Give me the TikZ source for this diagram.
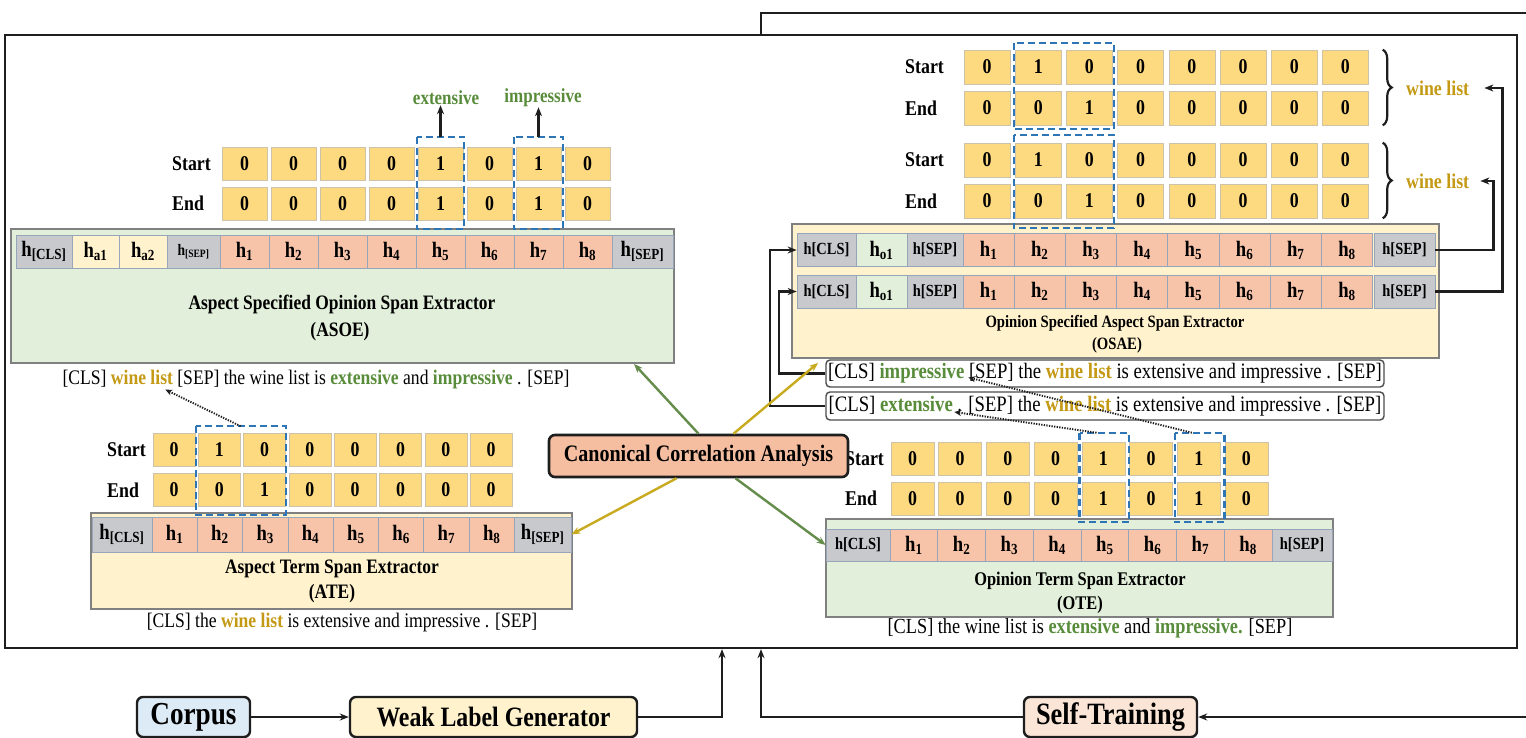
\documentclass[tikz,border=0pt]{standalone}
\usepackage{fontspec}
\setmainfont{Liberation Serif}[FakeStretch=0.85]
\usetikzlibrary{arrows.meta,calc,decorations.pathreplacing}

\definecolor{cellfill}{RGB}{253,217,128}
\definecolor{cellline}{RGB}{205,195,170}
\definecolor{tokfill}{RGB}{247,196,170}
\definecolor{tokgray}{RGB}{200,201,204}
\definecolor{tokline}{RGB}{150,165,185}
\definecolor{boxgreen}{RGB}{226,239,218}
\definecolor{boxyellow}{RGB}{255,242,204}
\definecolor{boxline}{RGB}{128,128,128}
\definecolor{ccafill}{RGB}{245,190,160}
\definecolor{corpusfill}{RGB}{221,235,247}
\definecolor{stfill}{RGB}{251,229,214}
\definecolor{wgreen}{RGB}{88,140,58}
\definecolor{wgold}{RGB}{196,153,20}
\definecolor{lgreen}{RGB}{100,140,75}
\definecolor{lgold}{RGB}{200,170,30}
\definecolor{dashcol}{RGB}{46,117,182}
\definecolor{ink}{RGB}{30,30,30}

\newcommand{\fsz}[1]{\fontsize{#1}{#1}\selectfont}
\newcommand{\gwd}[1]{\textcolor{wgreen}{\bfseries #1}}
\newcommand{\ywd}[1]{\textcolor{wgold}{\bfseries #1}}

\begin{document}
\begin{tikzpicture}[x=1pt,y=-1pt,
  every node/.style={inner sep=0pt},
  cellbox/.style={draw=cellline, line width=0.6pt, fill=cellfill, font=\fsz{21}\bfseries},
  tokbox/.style={draw=tokline, line width=0.7pt, fill=tokfill, font=\fsz{22}\bfseries},
  graytok/.style={tokbox, fill=tokgray},
  modbox/.style={draw=boxline, line width=1.8pt},
  rowlbl/.style={anchor=west, font=\fsz{21}\bfseries},
  titletxt/.style={font=\fsz{20.5}\bfseries},
  senttxt/.style={font=\fsz{20.7}},
  sentbox/.style={draw=black!70, line width=1.4pt, rounded corners=4pt, fill=white, font=\fsz{22}},
  dashblue/.style={draw=dashcol, line width=2.1pt, dash pattern=on 7pt off 4pt},
  arr/.style={draw=ink, line width=2.3pt, -{Stealth[length=9pt,width=7pt]}},
  dotarr/.style={draw=ink, line width=1.9pt, dash pattern=on 1.3pt off 1.3pt, -{Stealth[length=7pt,width=6pt]}},
  greenline/.style={draw=lgreen, line width=2.4pt, -{Stealth[length=9pt,width=7pt]}},
  goldline/.style={draw=lgold, line width=2.4pt, -{Stealth[length=9pt,width=7pt]}},
  ccabox/.style={draw=ink, line width=2.6pt, rounded corners=6pt, fill=ccafill, font=\fsz{23.6}\bfseries},
  botbox/.style={draw=ink, line width=2.4pt, rounded corners=6pt, minimum height=40pt},
  bracestyle/.style={draw=ink, line width=2.2pt, decorate, decoration={brace, amplitude=9pt}}
]
\useasboundingbox (0,0) rectangle (1526,738);
\clip (0,0) rectangle (1526,738);

% outer frame of the joint model
\node[draw=ink, line width=2.3pt, minimum width=1512pt, minimum height=613pt] (main) at (761,341.5) {};

% ---------------- ASOE ----------------
\node[modbox, fill=boxgreen, minimum width=663pt, minimum height=134pt] (asoe) at (342.5,296) {};
\node[graytok, minimum width=56pt, minimum height=33pt] (aCLS) at (44,251.5) {h\textsubscript{[CLS]}};
\node[tokbox, fill=boxyellow, minimum width=47pt, minimum height=33pt] (aA1) at (95.5,251.5) {h\textsubscript{a1}};
\node[tokbox, fill=boxyellow, minimum width=48pt, minimum height=33pt] (aA2) at (143,251.5) {h\textsubscript{a2}};
\node[graytok, minimum width=53pt, minimum height=33pt, font=\fsz{16}\bfseries] (aSEPa) at (193.5,251.5) {h\textsubscript{[SEP]}};
\foreach \col in {1,...,8}
  \node[tokbox, minimum width=49pt, minimum height=33pt] (aT\col) at ({244.5+49*(\col-1)},251.5) {h\textsubscript{\col}};
\node[graytok, minimum width=61pt, minimum height=33pt] (aSEP) at (642.5,251.5) {h\textsubscript{[SEP]}};
\foreach \sv/\ev [count=\col] in {0/0,0/0,0/0,0/0,1/1,0/0,1/1,0/0} {
  \node[cellbox, minimum width=45pt, minimum height=33pt] (aS\col) at ({244.5+49*(\col-1)},163.5) {\sv};
  \node[cellbox, minimum width=45pt, minimum height=33pt] (aE\col) at ({244.5+49*(\col-1)},203.5) {\ev};
}
\node[rowlbl] (aStart) at (172,163.5) {Start};
\node[rowlbl] (aEnd) at (172,203.5) {End};
\draw[dashblue] ($(aS5.north west)+(-1,-10)$) rectangle ($(aE5.south east)+(1,9)$);
\draw[dashblue] ($(aS7.north west)+(-2,-10)$) rectangle ($(aE7.south east)+(2,9)$);
\node[font=\fsz{20}\bfseries, text=wgreen] (lblExt) at (446,98) {extensive};
\node[font=\fsz{20}\bfseries, text=wgreen] (lblImp) at (543,98) {impressive};
\draw[arr] ($(aS5.north)+(0,-10)$) -- (aS5.north |- lblExt.south);
\draw[arr] ($(aS7.north)+(0,-10)$) -- (aS7.north |- lblImp.south);
\node[titletxt] (asoeName) at (342,304) {Aspect Specified Opinion Span Extractor};
\node[titletxt] (asoeAbbr) at (340,332) {(ASOE)};
\node[senttxt] (asoeSent) at (316,380) {[CLS] \ywd{wine list} [SEP] the wine list is \gwd{extensive} and \gwd{impressive} . [SEP]};

% ---------------- ATE ----------------
\node[modbox, fill=boxyellow, minimum width=481pt, minimum height=96pt] (ate) at (331.5,561) {};
\node[graytok, minimum width=60pt, minimum height=35pt] (tCLS) at (122,534.5) {h\textsubscript{[CLS]}};
\foreach \col in {1,...,8}
  \node[tokbox, minimum width=45.3pt, minimum height=35pt] (tT\col) at ({174.65+45.3*(\col-1)},534.5) {h\textsubscript{\col}};
\node[graytok, minimum width=56.6pt, minimum height=35pt] (tSEP) at (542.7,534.5) {h\textsubscript{[SEP]}};
\foreach \sv/\ev [count=\col] in {0/0,1/0,0/1,0/0,0/0,0/0,0/0,0/0} {
  \node[cellbox, minimum width=42pt, minimum height=33pt] (tS\col) at ({174+45.3*(\col-1)},450) {\sv};
  \node[cellbox, minimum width=42pt, minimum height=33pt] (tE\col) at ({174+45.3*(\col-1)},490) {\ev};
}
\node[rowlbl] (tStart) at (107,450) {Start};
\node[rowlbl] (tEnd) at (107,490) {End};
\draw[dashblue] ($(tS2.north west)+(-2,-7)$) rectangle ($(tE3.south east)+(0,8)$);
\node[titletxt] (ateName) at (332,569) {Aspect Term Span Extractor};
\node[titletxt] (ateAbbr) at (332,594) {(ATE)};
\node[senttxt] (ateSent) at (342,623) {[CLS] the \ywd{wine list} is extensive and impressive . [SEP]};
\draw[dotarr] ($(tS2.north east)+(0,-7)$) -- ($(asoeSent.south west)+(103,0)$);

% ---------------- OTE ----------------
\node[modbox, fill=boxgreen, minimum width=507pt, minimum height=98pt] (ote) at (1079.5,568) {};
\node[graytok, minimum width=64pt, minimum height=32pt, font=\fsz{17}\bfseries] (oCLS) at (858,545) {h[CLS]};
\foreach \col in {1,...,8}
  \node[tokbox, minimum width=47.75pt, minimum height=32pt] (oT\col) at ({913.9+47.75*(\col-1)},545) {h\textsubscript{\col}};
\node[graytok, minimum width=60pt, minimum height=32pt, font=\fsz{17}\bfseries] (oSEP) at (1302,545) {h[SEP]};
\foreach \sv/\ev [count=\col] in {0/0,0/0,0/0,0/0,1/1,0/0,1/1,0/0} {
  \node[cellbox, minimum width=43pt, minimum height=33pt] (oS\col) at ({912.5+47.7*(\col-1)},458.5) {\sv};
  \node[cellbox, minimum width=43pt, minimum height=33pt] (oE\col) at ({912.5+47.7*(\col-1)},498.5) {\ev};
}
\node[rowlbl] (oStart) at (845,458.5) {Start};
\node[rowlbl] (oEnd) at (845,498.5) {End};
\draw[dashblue] ($(oS5.north west)+(-2,-9)$) rectangle ($(oE5.south east)+(4,7)$);
\draw[dashblue] ($(oS7.north west)+(-2,-9)$) rectangle ($(oE7.south east)+(4,7)$);
\node[titletxt, font=\fsz{19.3}\bfseries] (oteName) at (1080,581) {Opinion Term Span Extractor};
\node[titletxt, font=\fsz{19.3}\bfseries] (oteAbbr) at (1080,605) {(OTE)};
\node[senttxt, font=\fsz{21.5}] (oteSent) at (1090,628) {[CLS] the wine list is \gwd{extensive} and \gwd{impressive.} [SEP]};

% ---------------- OSAE ----------------
\node[modbox, fill=boxyellow, minimum width=647pt, minimum height=134pt] (osae) at (1115.5,291) {};
\foreach \row/\ty in {1/250,2/291.5} {
  \node[graytok, minimum width=59pt, minimum height=33pt, font=\fsz{17}\bfseries] (oaCLS\row) at (826.5,\ty) {h[CLS]};
  \node[tokbox, fill=boxgreen, minimum width=51pt, minimum height=33pt] (oaO\row) at (881.5,\ty) {h\textsubscript{o1}};
  \node[graytok, minimum width=56pt, minimum height=33pt, font=\fsz{17}\bfseries] (oaSEPa\row) at (935,\ty) {h[SEP]};
  \foreach \col in {1,...,8}
    \node[tokbox, minimum width=51.2pt, minimum height=33pt] (oaT\row-\col) at ({988.6+51.2*(\col-1)},\ty) {h\textsubscript{\col}};
  \node[graytok, minimum width=61pt, minimum height=33pt, font=\fsz{17}\bfseries] (oaSEP\row) at (1404.5,\ty) {h[SEP]};
}
\foreach \pr/\sy/\ey in {1/67/108,2/160/201} {
  \foreach \sv/\ev [count=\col] in {0/0,1/0,0/1,0/0,0/0,0/0,0/0,0/0} {
    \node[cellbox, minimum width=46pt, minimum height=34pt] (pS\pr-\col) at ({987+51.2*(\col-1)},\sy) {\sv};
    \node[cellbox, minimum width=46pt, minimum height=34pt] (pE\pr-\col) at ({987+51.2*(\col-1)},\ey) {\ev};
  }
  \node[rowlbl] (pStart\pr) at (905,\sy) {Start};
  \node[rowlbl] (pEnd\pr) at (905,\ey) {End};
}
\draw[dashblue] ($(pS1-2.north west)+(-1,-7)$) rectangle ($(pE1-3.south east)+(1,4)$);
\draw[dashblue] ($(pS2-2.north west)+(-1,-8)$) rectangle ($(pE2-3.south east)+(1,10)$);
\draw[bracestyle] ($(pS1-8.north east)+(14,0)$) -- ($(pE1-8.south east)+(14,0)$);
\draw[bracestyle] ($(pS2-8.north east)+(14,0)$) -- ($(pE2-8.south east)+(14,0)$);
\node[anchor=west, font=\fsz{21}\bfseries, text=wgold] (wl1) at (1406,88) {wine list};
\node[anchor=west, font=\fsz{21}\bfseries, text=wgold] (wl2) at (1406,181) {wine list};
\draw[arr] (oaSEP1.east) -| ($(wl2.east)+(24,0)$) -- ($(wl2.east)+(11,0)$);
\draw[arr] (oaSEP2.east) -| ($(wl1.east)+(33,0)$) -- ($(wl1.east)+(15,0)$);
\node[titletxt, font=\fsz{17.3}\bfseries] (osaeName) at (1115,323) {Opinion Specified Aspect Span Extractor};
\node[titletxt, font=\fsz{17.3}\bfseries] (osaeAbbr) at (1117,345) {(OSAE)};

% opinion-specified inputs
\node[sentbox, minimum width=558pt, minimum height=27pt] (impS) at (1105,373.5) {[CLS] \gwd{impressive} [SEP] the \ywd{wine list} is extensive and impressive . [SEP]};
\node[sentbox, minimum width=558pt, minimum height=28pt] (extS) at (1105,406) {[CLS] \gwd{extensive} . [SEP] the \ywd{wine list} is extensive and impressive . [SEP]};
\draw[arr] (impS.west) -- ++(-46,0) |- (oaCLS2.west);
\draw[arr] (extS.west) -- ++(-55,0) |- (oaCLS1.west);
\draw[dotarr] ($(oS7.north west)+(15,-9)$) -- ($(impS.west)+(143,4)$);
\draw[dotarr] ($(oS5.north west)+(15,-9)$) -- ($(extS.west)+(129,6)$);

% ---------------- CCA ----------------
\node[ccabox, minimum width=299pt, minimum height=42pt] (cca) at (698.5,456) {Canonical Correlation Analysis};
\draw[greenline] (cca.north) -- ($(asoe.south)+(291.5,0)$);
\draw[goldline] ($(cca.north)+(35,0)$) -- ($(osae.south west)+(27,4)$);
\draw[goldline] ($(cca.south)+(-22,0)$) -- (tSEP.east);
\draw[greenline] ($(cca.south)+(37,0)$) -- (oCLS.west);

% ---------------- pipeline ----------------
\node[botbox, fill=corpusfill, minimum width=113pt, font=\fsz{32}\bfseries] (corpus) at (193.5,717) {Corpus};
\node[botbox, fill=boxyellow, minimum width=287pt, font=\fsz{28}\bfseries] (wlg) at (493.5,717) {Weak Label Generator};
\node[botbox, fill=stfill, minimum width=173pt, font=\fsz{31}\bfseries] (st) at (1110.5,717) {Self-Training};
\coordinate (loopTR) at (1545,13);
\draw[arr] (corpus.east) -- (wlg.west);
\draw[arr] (wlg.east) -| ([xshift=-39pt]main.south);
\draw[arr] (st.west) -| (main.south);
\draw[arr] (main.north) |- (loopTR) |- (st.east);
\end{tikzpicture}
\end{document}
